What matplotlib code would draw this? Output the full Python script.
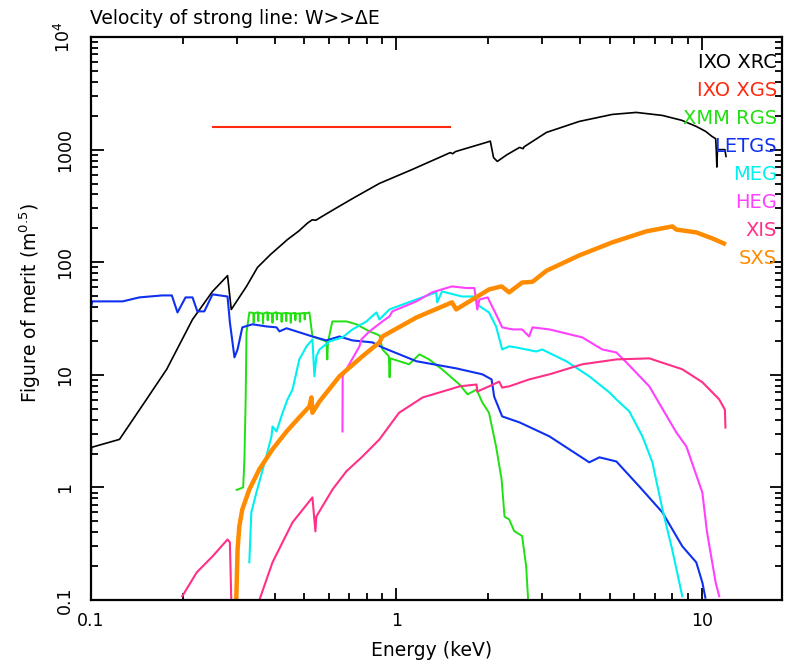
import numpy as np
import matplotlib
matplotlib.use("Agg")
import matplotlib.pyplot as plt
from matplotlib.ticker import FixedLocator, LogLocator, NullFormatter

# IXO XRC (calorimeter + mirror)
xrc_e = [0.100, 0.1005, 0.124, 0.152, 0.177, 0.215, 0.250, 0.280, 0.288, 0.300,
         0.323, 0.351, 0.387, 0.440, 0.480, 0.511, 0.530, 0.545, 0.564, 0.641,
         0.729, 0.880, 1.128, 1.50, 1.53, 1.56, 1.97, 2.03, 2.08, 2.14,
         2.30, 2.53, 2.60, 2.62, 3.10, 3.97, 5.09, 6.10, 7.43, 8.60,
         9.59, 10.3, 10.8, 11.1, 11.15, 11.2, 11.25, 11.9, 12.0]
xrc_v = [1.70, 2.27, 2.67, 6.05, 11.2, 31.0, 55.0, 76.0, 38.0, 45.0,
         61.0, 90.0, 117.0, 159.0, 190.0, 222.0, 238.0, 236.0, 250.0, 307.0,
         376.0, 501.0, 667.0, 940.0, 920.0, 960.0, 1159.0, 1190.0, 850.0, 786.0,
         900.0, 1046.0, 1020.0, 1060.0, 1422.0, 1780.0, 2054.0, 2140.0, 2012.0, 1820.0,
         1607.0, 1450.0, 1309.0, 1250.0, 1000.0, 700.0, 1000.0, 1000.0, 870.0]

# IXO XGS
xgs_e = [0.25, 1.5]
xgs_v = [1600.0, 1600.0]

# XMM RGS
rgs_e = [0.300, 0.315, 0.318, 0.321, 0.323, 0.330,
         0.340, 0.341, 0.342, 0.352, 0.353, 0.354, 0.365, 0.366, 0.367,
         0.378, 0.379, 0.380, 0.392, 0.393, 0.394, 0.405, 0.406, 0.407,
         0.420, 0.421, 0.422, 0.435, 0.436, 0.437, 0.450, 0.451, 0.452,
         0.466, 0.467, 0.468, 0.482, 0.483, 0.484, 0.500, 0.501, 0.502,
         0.519, 0.531, 0.590, 0.594, 0.597, 0.617, 0.686, 0.740, 0.816,
         0.880, 0.900, 0.945, 0.950, 0.955, 1.10, 1.19, 1.28, 1.41, 1.61,
         1.71, 1.83, 1.91, 2.01, 2.12, 2.21, 2.26, 2.34, 2.43, 2.58,
         2.66, 2.70]
rgs_v = [0.95, 1.0, 1.77, 6.05, 23.8, 35.8,
         35.5, 29.0, 35.0, 36.0, 30.0, 35.5, 35.0, 28.5, 35.0,
         36.0, 30.5, 35.5, 35.0, 29.0, 35.0, 36.0, 31.0, 35.5,
         35.0, 29.5, 35.0, 35.5, 30.0, 35.5, 35.0, 29.0, 35.0,
         35.5, 30.5, 35.0, 35.0, 29.5, 35.0, 35.5, 31.0, 35.0,
         35.8, 21.9, 19.8, 13.7, 19.5, 29.8, 29.8, 28.1, 24.3,
         22.4, 16.8, 14.6, 9.5, 14.0, 12.4, 15.2, 13.7, 11.2, 8.2,
         6.7, 7.4, 5.7, 4.6, 2.31, 1.18, 0.55, 0.52, 0.41, 0.37,
         0.199, 0.10]

# Chandra LETGS
letgs_e = [0.100, 0.101, 0.127, 0.144, 0.171, 0.184, 0.192, 0.204, 0.215, 0.223,
           0.235, 0.250, 0.280, 0.285, 0.295, 0.302, 0.313, 0.338, 0.375, 0.405,
           0.414, 0.437, 0.531, 0.590, 0.651, 0.718, 0.835, 0.900, 1.163, 1.572,
           1.912, 2.05, 2.09, 2.22, 2.53, 3.17, 4.28, 4.62, 5.25, 6.24,
           7.43, 8.63, 9.59, 10.04, 10.27]
letgs_v = [39.7, 44.9, 44.9, 48.7, 50.7, 50.7, 35.8, 48.7, 48.7, 36.6,
           36.6, 51.8, 49.6, 29.2, 14.3, 16.8, 26.4, 28.1, 26.9, 26.4,
           24.3, 25.9, 21.9, 20.2, 21.9, 20.2, 19.4, 17.5, 13.2, 11.4,
           10.1, 9.1, 6.4, 4.27, 3.78, 2.84, 1.67, 1.85, 1.70, 1.02,
           0.60, 0.30, 0.216, 0.143, 0.105]

# Chandra HETGS MEG
meg_e = [0.330, 0.335, 0.348, 0.375, 0.390, 0.393, 0.405, 0.424, 0.440, 0.457,
         0.481, 0.508, 0.531, 0.539, 0.547, 0.560, 0.604, 0.666, 0.718, 0.798,
         0.860, 0.880, 0.949, 1.163, 1.35, 1.36, 1.41, 1.64, 1.83, 1.84,
         2.01, 2.12, 2.22, 2.34, 2.47, 2.87, 3.00, 3.60, 4.28, 4.98,
         5.25, 5.79, 6.39, 6.89, 7.43, 8.00, 8.63]
meg_v = [0.216, 0.60, 0.90, 1.88, 2.84, 3.48, 3.14, 4.6, 6.05, 7.4,
         13.7, 17.9, 20.6, 9.7, 14.6, 16.8, 19.8, 21.5, 25.3, 29.8,
         35.8, 31.0, 38.1, 46.7, 54.0, 44.0, 55.0, 49.6, 49.6, 42.0,
         35.8, 26.9, 16.8, 17.9, 17.5, 16.1, 16.8, 13.2, 9.7, 6.98,
         6.05, 4.73, 2.84, 1.67, 0.64, 0.28, 0.108]

# Chandra HETGS HEG
heg_e = [0.666, 0.667, 0.686, 0.757, 0.768, 0.816, 0.900, 0.949, 0.970, 1.163,
         1.31, 1.52, 1.69, 1.80, 1.84, 1.87, 1.99, 2.12, 2.22, 2.40,
         2.58, 2.72, 2.79, 3.17, 4.06, 4.72, 5.25, 5.66, 6.73, 8.25,
         8.90, 10.04, 10.4, 11.1, 11.4]
heg_v = [3.14, 9.7, 11.2, 17.9, 20.6, 24.3, 29.8, 33.0, 36.6, 44.9,
         54.0, 61.0, 59.0, 59.0, 38.0, 46.7, 48.7, 34.4, 26.4, 25.3,
         25.3, 21.9, 26.4, 25.3, 21.5, 16.8, 15.8, 12.9, 7.9, 3.08,
         2.31, 0.90, 0.40, 0.143, 0.108]

# Suzaku XIS (two pieces)
xis1_e = [0.199, 0.222, 0.250, 0.280, 0.285, 0.288]
xis1_v = [0.108, 0.176, 0.244, 0.345, 0.325, 0.10]
xis2_e = [0.356, 0.393, 0.457, 0.531, 0.543, 0.547, 0.618, 0.686, 0.774, 0.880,
          1.02, 1.22, 1.49, 1.61, 1.83, 1.84, 2.01, 2.17, 2.22, 2.34,
          2.72, 3.17, 4.06, 5.25, 6.73, 8.63, 10.04, 11.4, 11.9, 11.95]
xis2_v = [0.10, 0.216, 0.489, 0.815, 0.407, 0.552, 0.96, 1.39, 1.88, 2.67,
          4.6, 6.3, 7.4, 7.9, 8.2, 7.1, 7.9, 8.7, 7.7, 7.9,
          9.1, 10.1, 12.4, 13.7, 14.0, 11.2, 8.6, 6.05, 4.9, 3.4]

# Astro-H SXS
sxs_e = [0.299, 0.302, 0.306, 0.313, 0.330, 0.356, 0.393, 0.437, 0.481, 0.519,
         0.527, 0.531, 0.560, 0.651, 0.774, 0.880, 0.900, 1.163, 1.52, 1.57,
         2.01, 2.21, 2.34, 2.58, 2.79, 3.10, 3.97, 5.09, 6.58, 8.01,
         8.25, 9.59, 10.8, 12.0]
sxs_v = [0.10, 0.281, 0.451, 0.638, 0.96, 1.45, 2.18, 3.14, 4.19, 5.24,
         6.3, 4.6, 5.8, 9.7, 14.6, 19.4, 21.9, 32.3, 44.0, 38.1,
         57.3, 61.0, 54.0, 66.0, 67.0, 84.0, 115.0, 150.0, 188.0, 208.0,
         195.0, 184.0, 163.0, 144.0]

names = ["IXO XRC", "IXO XGS", "XMM RGS", "LETGS", "MEG", "HEG", "XIS", "SXS"]
colors = ["black", "#ff2a10", "#20e010", "#1030f0", "#00f0f0", "#ff40ff", "#ff3088", "#ff8c00"]

fig = plt.figure(figsize=(7.91, 6.66), dpi=100)
ax = fig.add_axes([0.115, 0.0991, 0.8736, 0.8453])

ax.plot(xrc_e, xrc_v, color=colors[0], lw=1.2)
ax.plot(xgs_e, xgs_v, color=colors[1], lw=1.5)
ax.plot(rgs_e, rgs_v, color=colors[2], lw=1.4)
ax.plot(letgs_e, letgs_v, color=colors[3], lw=1.5)
ax.plot(meg_e, meg_v, color=colors[4], lw=1.5)
ax.plot(heg_e, heg_v, color=colors[5], lw=1.5)
ax.plot(xis1_e, xis1_v, color=colors[6], lw=1.5)
ax.plot(xis2_e, xis2_v, color=colors[6], lw=1.5)
ax.plot(sxs_e, sxs_v, color=colors[7], lw=3.2, solid_capstyle="butt")

ax.set_xscale("log")
ax.set_yscale("log")
ax.set_xlim(0.1, 18.3)
ax.set_ylim(0.1, 1e4)

ax.xaxis.set_major_locator(FixedLocator([0.1, 1, 10]))
ax.set_xticklabels(["0.1", "1", "10"])
ax.xaxis.set_minor_locator(LogLocator(base=10, subs=np.arange(2, 10)))
ax.xaxis.set_minor_formatter(NullFormatter())
ax.yaxis.set_major_locator(FixedLocator([0.1, 1, 10, 100, 1000, 1e4]))
ax.set_yticklabels(["0.1", "1", "10", "100", "1000", "10$^4$"], rotation=90, va="center")
ax.yaxis.set_minor_locator(LogLocator(base=10, subs=np.arange(2, 10)))
ax.yaxis.set_minor_formatter(NullFormatter())

ax.tick_params(which="both", direction="in", top=True, right=True, width=1.3, labelsize=12.5)
ax.tick_params(which="major", length=9, pad=9)
ax.tick_params(axis="y", which="major", pad=12)
ax.tick_params(which="minor", length=5)
for s in ax.spines.values():
    s.set_linewidth(1.6)

for i, (n, c) in enumerate(zip(names, colors)):
    ax.text(0.993, 0.955 - i * 0.0497, n, color=c, fontsize=14, ha="right", va="center",
            transform=ax.transAxes, zorder=5)

fig.text(90 / 791, 1 - 18 / 666, "Velocity of strong line: W>>\u0394E", fontsize=13.5, ha="left", va="center")
fig.text(432 / 791, 1 - 650 / 666, "Energy (keV)", fontsize=13.5, ha="center", va="center")
fig.text(30 / 791, 1 - 303 / 666, "Figure of merit (m$^{0.5}$)", fontsize=13.5, rotation=90,
         ha="center", va="center")

fig.savefig("out.png", dpi=100)
